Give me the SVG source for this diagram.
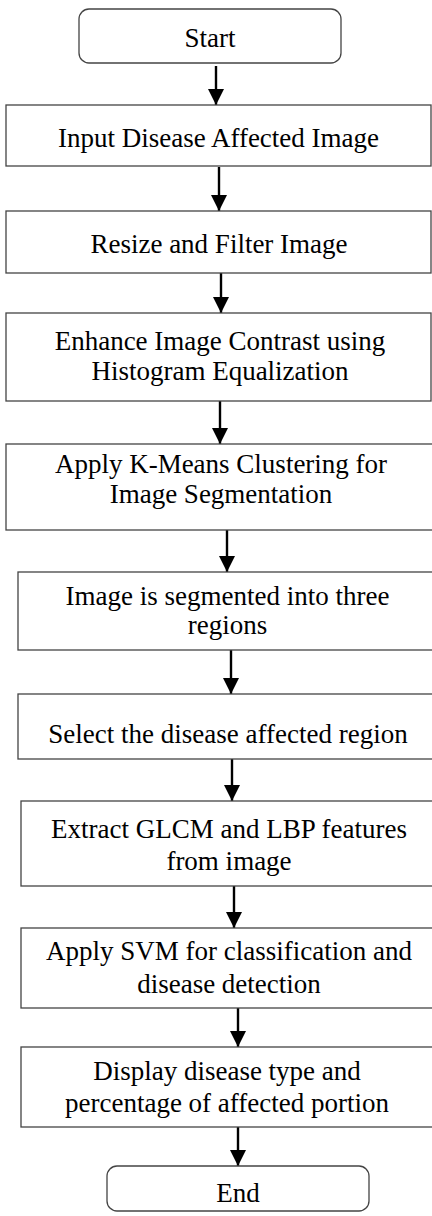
<svg xmlns="http://www.w3.org/2000/svg" width="432" height="1216" viewBox="0 0 432 1216">
<defs>
<marker id="ah" markerUnits="userSpaceOnUse" markerWidth="16" markerHeight="16" refX="16" refY="8" orient="auto">
<path d="M0,0 L16,8 L0,16 Z" fill="#000"/>
</marker>
<style>
.box{fill:#fff;stroke:#444;stroke-width:1.3}
.t{font-family:"Liberation Serif","Times New Roman",serif;font-size:27px;fill:#000;text-anchor:middle}
.c{stroke:#000;stroke-width:2.4;fill:none;marker-end:url(#ah)}
</style>
</defs>
<rect width="432" height="1216" fill="#fff"/>
<g id="connectors">
<line class="c" x1="216" y1="66" x2="216" y2="105"/>
<line class="c" x1="219" y1="167" x2="219" y2="211"/>
<line class="c" x1="221" y1="273" x2="221" y2="313"/>
<line class="c" x1="220" y1="401" x2="220" y2="444"/>
<line class="c" x1="227" y1="530" x2="227" y2="572"/>
<line class="c" x1="231" y1="650" x2="231" y2="694"/>
<line class="c" x1="232" y1="759" x2="232" y2="801"/>
<line class="c" x1="234" y1="886" x2="234" y2="928"/>
<line class="c" x1="238" y1="1008" x2="238" y2="1047"/>
<line class="c" x1="238" y1="1127" x2="238" y2="1166"/>
</g>
<g id="start">
<rect class="box" x="79" y="9" width="262" height="54" rx="10"/>
<text class="t" x="210" y="47">Start</text>
</g>
<g id="n1">
<rect class="box" x="6" y="105" width="425" height="61"/>
<text class="t" x="218.5" y="147">Input Disease Affected Image</text>
</g>
<g id="n2">
<rect class="box" x="6" y="211" width="425" height="62"/>
<text class="t" x="219" y="253">Resize and Filter Image</text>
</g>
<g id="n3">
<rect class="box" x="6" y="313" width="425" height="88"/>
<text class="t" x="220" y="350">Enhance Image Contrast using</text>
<text class="t" x="220" y="380">Histogram Equalization</text>
</g>
<g id="n4">
<rect class="box" x="6" y="444" width="440" height="86"/>
<text class="t" x="221" y="473">Apply K-Means Clustering for</text>
<text class="t" x="221" y="503">Image Segmentation</text>
</g>
<g id="n5">
<rect class="box" x="18" y="572" width="430" height="78"/>
<text class="t" x="227.5" y="605">Image is segmented into three</text>
<text class="t" x="227.5" y="634">regions</text>
</g>
<g id="n6">
<rect class="box" x="18" y="694" width="430" height="65"/>
<text class="t" x="228" y="743">Select the disease affected region</text>
</g>
<g id="n7">
<rect class="box" x="21" y="801" width="430" height="85"/>
<text class="t" x="229" y="838">Extract GLCM and LBP features</text>
<text class="t" x="229" y="870">from image</text>
</g>
<g id="n8">
<rect class="box" x="21" y="928" width="430" height="80"/>
<text class="t" x="229" y="960">Apply SVM for classification and</text>
<text class="t" x="229" y="993">disease detection</text>
</g>
<g id="n9">
<rect class="box" x="21" y="1047" width="430" height="80"/>
<text class="t" x="227" y="1080">Display disease type and</text>
<text class="t" x="227" y="1112">percentage of affected portion</text>
</g>
<g id="end">
<rect class="box" x="107" y="1166" width="262" height="45" rx="10"/>
<text class="t" x="238" y="1202">End</text>
</g>
</svg>
